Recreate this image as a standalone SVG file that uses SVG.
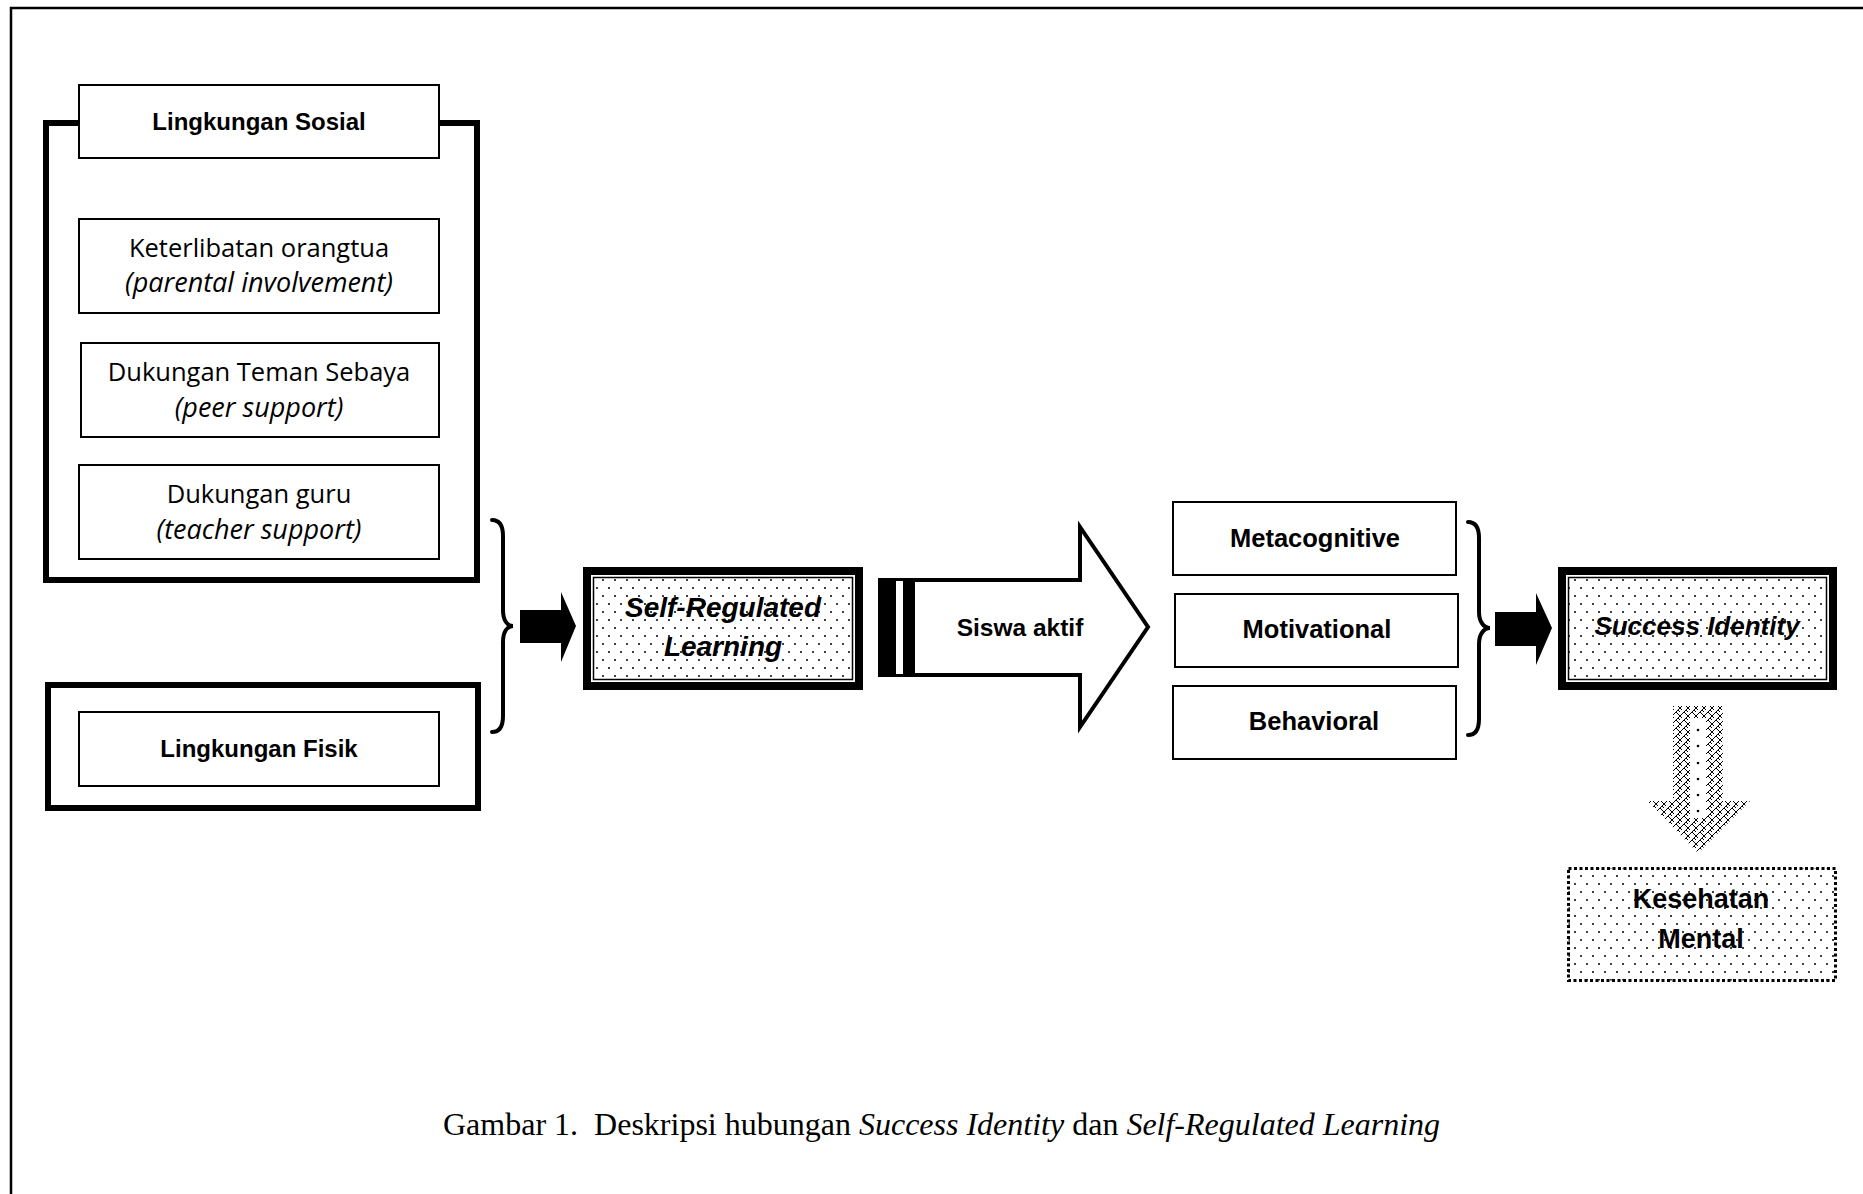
<svg xmlns="http://www.w3.org/2000/svg" width="1863" height="1194" viewBox="0 0 1863 1194">
<style>
.thin{fill:#fff;stroke:#000;stroke-width:2}
.thick{fill:#fff;stroke:#000;stroke-width:6}
.reg{font-family:"Open Sans","Liberation Sans",sans-serif;font-size:25.5px;fill:#000;text-anchor:middle}
.it{font-style:italic;font-size:27px}
.bold{font-family:"Liberation Sans",Arial,sans-serif;font-weight:bold;fill:#000;text-anchor:middle}
.bit{font-style:italic}
.brace{fill:none;stroke:#000;stroke-width:4;stroke-linecap:round}
</style>
<defs>
<pattern id="dots" width="12" height="16" patternUnits="userSpaceOnUse">
<rect width="12" height="16" fill="#fff"/>
<circle cx="3" cy="4" r="1" fill="#000"/>
<circle cx="9" cy="12" r="1" fill="#000"/>
</pattern>
<pattern id="weave" width="8" height="8" patternUnits="userSpaceOnUse">
<rect width="8" height="8" fill="#fff"/>
<path d="M0,4 L4,0 M4,8 L8,4 M4,0 L8,4 M0,4 L2,6 M6,6 L8,8" stroke="#000" stroke-width="1" fill="none"/>
</pattern>
</defs>
<rect width="1863" height="1194" fill="#fff"/>
<path d="M11,1194 V8 H1863" fill="none" stroke="#000" stroke-width="2.5"/>

<g id="lingkungan-sosial">
<rect class="thick" x="46" y="123" width="431" height="457"/>
<rect class="thin" x="79" y="85" width="360" height="73"/>
<text class="bold" x="259" y="130" font-size="24">Lingkungan Sosial</text>
</g>
<g id="keterlibatan-orangtua">
<rect class="thin" x="79" y="219" width="360" height="94"/>
<text class="reg" x="259" y="257">Keterlibatan orangtua</text>
<text class="reg it" x="259" y="292">(parental involvement)</text>
</g>
<g id="dukungan-teman">
<rect class="thin" x="81" y="343" width="358" height="94"/>
<text class="reg" x="259" y="381">Dukungan Teman Sebaya</text>
<text class="reg it" x="259" y="417">(peer support)</text>
</g>
<g id="dukungan-guru">
<rect class="thin" x="79" y="465" width="360" height="94"/>
<text class="reg" x="259" y="503">Dukungan guru</text>
<text class="reg it" x="259" y="539">(teacher support)</text>
</g>
<g id="lingkungan-fisik">
<rect class="thick" x="48" y="685" width="430" height="123"/>
<rect class="thin" x="79" y="712" width="360" height="74"/>
<text class="bold" x="259" y="757" font-size="24">Lingkungan Fisik</text>
</g>

<g id="self-regulated-learning">
<rect x="587" y="571" width="272" height="115" fill="#fff" stroke="#000" stroke-width="8"/>
<rect x="593.5" y="577.5" width="259" height="102" fill="url(#dots)" stroke="#000" stroke-width="1.5"/>
<text class="bold bit" x="723" y="617" font-size="28">Self-Regulated</text>
<text class="bold bit" x="723" y="656" font-size="28">Learning</text>
</g>

<g id="siswa-aktif">
<polygon points="913,580 1080,580 1080,527 1148,627 1080,727 1080,675 913,675" fill="#fff" stroke="#000" stroke-width="4" stroke-linejoin="miter"/>
<rect x="878" y="578" width="35" height="99" fill="#000"/>
<rect x="896" y="581" width="7" height="93" fill="#fff"/>
<text class="bold" x="1020" y="636" font-size="24.5">Siswa aktif</text>
</g>

<g id="metacognitive">
<rect class="thin" x="1173" y="502" width="283" height="73"/>
<text class="bold" x="1315" y="547" font-size="25.5">Metacognitive</text>
</g>
<g id="motivational">
<rect class="thin" x="1175" y="594" width="283" height="73"/>
<text class="bold" x="1317" y="638" font-size="25.5">Motivational</text>
</g>
<g id="behavioral">
<rect class="thin" x="1173" y="686" width="283" height="73"/>
<text class="bold" x="1314" y="730" font-size="25.5">Behavioral</text>
</g>

<g id="success-identity">
<rect x="1562" y="571" width="271" height="115" fill="#fff" stroke="#000" stroke-width="8"/>
<rect x="1568.5" y="577.5" width="258" height="102" fill="url(#dots)" stroke="#000" stroke-width="1.5"/>
<text class="bold bit" x="1697" y="635" font-size="26">Success Identity</text>
</g>

<g id="kesehatan-mental">
<rect x="1568.5" y="868.5" width="267" height="112" fill="url(#dots)" stroke="#000" stroke-width="3" stroke-dasharray="3,2.5"/>
<text class="bold" x="1701" y="908" font-size="27">Kesehatan</text>
<text class="bold" x="1701" y="948" font-size="27">Mental</text>
</g>

<g id="connectors">
<path class="brace" d="M492,520 C500,520 503,526 503,536 L503,610 C503,620 507,626 513,626 C507,626 503,632 503,642 L503,716 C503,726 500,732 492,732"/>
<polygon points="520,610 561,610 561,592 576,626 561,662 561,643 520,643" fill="#000"/>
<path class="brace" d="M1468,522 C1476,522 1479,528 1479,538 L1479,612 C1479,622 1484,628 1490,628 C1484,628 1479,634 1479,644 L1479,719 C1479,729 1476,735 1468,735"/>
<polygon points="1495,612 1536,612 1536,593 1552,628 1536,665 1536,646 1495,646" fill="#000"/>
<polygon points="1673,706 1723,706 1723,801 1750,801 1698,853 1647,801 1673,801" fill="url(#weave)"/>
<rect x="1690" y="718" width="16" height="100" fill="#fff"/>
<g fill="#000">
<circle cx="1698" cy="730" r="1.3"/><circle cx="1698" cy="746" r="1.3"/><circle cx="1698" cy="763" r="1.3"/>
<circle cx="1698" cy="779" r="1.3"/><circle cx="1698" cy="795" r="1.3"/><circle cx="1698" cy="811" r="1.3"/>
</g>
</g>

<text x="443" y="1135" xml:space="preserve" font-family="'Liberation Serif','Times New Roman',serif" font-size="32" fill="#000">Gambar 1.  Deskripsi hubungan <tspan font-style="italic">Success Identity</tspan> dan <tspan font-style="italic">Self-Regulated Learning</tspan></text>
</svg>
